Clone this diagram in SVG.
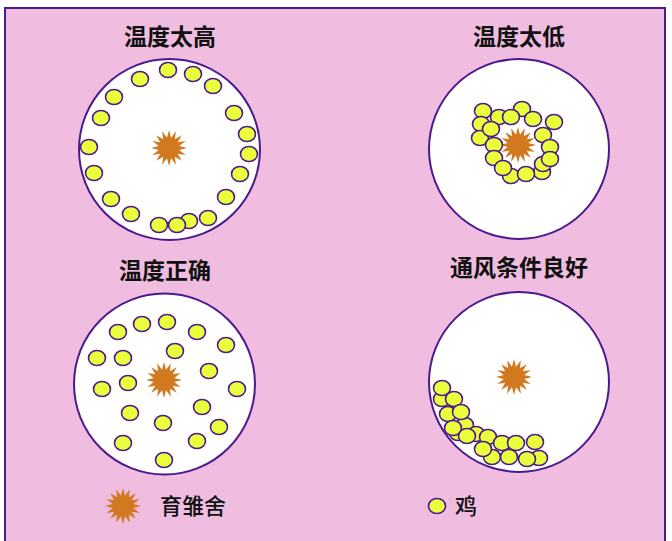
<svg xmlns="http://www.w3.org/2000/svg" xmlns:xlink="http://www.w3.org/1999/xlink" width="672" height="541" viewBox="0 0 672 541">
<style>
.bg{fill:#f0bde1;stroke:#4b1a8c;stroke-width:2}
.coop{fill:#ffffff;stroke:#4b1a8c;stroke-width:2}
.hen{fill:#eaff3b;stroke:#4b1a8c;stroke-width:1.6}
.sun{fill:#d2781e}
.title{font-family:"Noto Sans CJK SC","Noto Sans",sans-serif;font-size:23px;font-weight:bold;fill:#111;text-anchor:middle}
.leg{font-family:"Noto Sans CJK SC","Noto Sans",sans-serif;font-size:22px;font-weight:500;fill:#111}
</style>
<defs>
<polygon id="star" class="sun" points="18,0 10.3,2.05 16.63,6.89 8.73,5.84 12.73,12.73 5.84,8.73 6.89,16.63 2.05,10.3 0,18 -2.05,10.3 -6.89,16.63 -5.84,8.73 -12.73,12.73 -8.73,5.84 -16.63,6.89 -10.3,2.05 -18,0 -10.3,-2.05 -16.63,-6.89 -8.73,-5.84 -12.73,-12.73 -5.84,-8.73 -6.89,-16.63 -2.05,-10.3 0,-18 2.05,-10.3 6.89,-16.63 5.84,-8.73 12.73,-12.73 8.73,-5.84 16.63,-6.89 10.3,-2.05"/>
<ellipse id="hen" class="hen" rx="8.5" ry="7.5"/>
</defs>
<rect class="bg" x="5" y="8" width="660" height="545"/>

<g id="too-hot">
<text class="title" x="170" y="45">温度太高</text>
<circle class="coop" cx="169.5" cy="149.5" r="90.5"/>
<use xlink:href="#star" x="169" y="148"/>
<use xlink:href="#hen" x="168" y="70"/>
<use xlink:href="#hen" x="193" y="74"/>
<use xlink:href="#hen" x="213" y="86"/>
<use xlink:href="#hen" x="140" y="79"/>
<use xlink:href="#hen" x="114" y="97"/>
<use xlink:href="#hen" x="101" y="118"/>
<use xlink:href="#hen" x="89" y="147"/>
<use xlink:href="#hen" x="94" y="173"/>
<use xlink:href="#hen" x="111" y="199"/>
<use xlink:href="#hen" x="131" y="214"/>
<use xlink:href="#hen" x="189" y="221"/>
<use xlink:href="#hen" x="159" y="225"/>
<use xlink:href="#hen" x="177" y="225"/>
<use xlink:href="#hen" x="208" y="218"/>
<use xlink:href="#hen" x="226" y="197"/>
<use xlink:href="#hen" x="240" y="174"/>
<use xlink:href="#hen" x="247" y="134"/>
<use xlink:href="#hen" x="249" y="154"/>
<use xlink:href="#hen" x="234" y="113"/>
</g>

<g id="too-cold">
<text class="title" x="519" y="45">温度太低</text>
<circle class="coop" cx="519" cy="149" r="90"/>
<use xlink:href="#star" x="518" y="145"/>
<use xlink:href="#hen" x="483" y="111"/>
<use xlink:href="#hen" x="499" y="117"/>
<use xlink:href="#hen" x="522" y="109"/>
<use xlink:href="#hen" x="511" y="117"/>
<use xlink:href="#hen" x="533" y="119"/>
<use xlink:href="#hen" x="554" y="122"/>
<use xlink:href="#hen" x="481" y="124"/>
<use xlink:href="#hen" x="480" y="138"/>
<use xlink:href="#hen" x="491" y="129"/>
<use xlink:href="#hen" x="543" y="135"/>
<use xlink:href="#hen" x="494" y="145"/>
<use xlink:href="#hen" x="550" y="147"/>
<use xlink:href="#hen" x="494" y="158"/>
<use xlink:href="#hen" x="542" y="172"/>
<use xlink:href="#hen" x="543" y="164"/>
<use xlink:href="#hen" x="550" y="159"/>
<use xlink:href="#hen" x="511" y="176"/>
<use xlink:href="#hen" x="503" y="168"/>
<use xlink:href="#hen" x="526" y="174"/>
</g>

<g id="just-right">
<text class="title" x="165" y="279">温度正确</text>
<circle class="coop" cx="164.5" cy="384" r="90.5"/>
<use xlink:href="#star" x="164" y="380"/>
<use xlink:href="#hen" x="118" y="332"/>
<use xlink:href="#hen" x="142" y="324"/>
<use xlink:href="#hen" x="167" y="322"/>
<use xlink:href="#hen" x="197" y="332"/>
<use xlink:href="#hen" x="226" y="345"/>
<use xlink:href="#hen" x="97" y="358"/>
<use xlink:href="#hen" x="123" y="358"/>
<use xlink:href="#hen" x="175" y="351"/>
<use xlink:href="#hen" x="209" y="371"/>
<use xlink:href="#hen" x="102" y="389"/>
<use xlink:href="#hen" x="128" y="383"/>
<use xlink:href="#hen" x="237" y="389"/>
<use xlink:href="#hen" x="130" y="413"/>
<use xlink:href="#hen" x="202" y="407"/>
<use xlink:href="#hen" x="163" y="423"/>
<use xlink:href="#hen" x="219" y="427"/>
<use xlink:href="#hen" x="123" y="443"/>
<use xlink:href="#hen" x="197" y="441"/>
<use xlink:href="#hen" x="164" y="460"/>
</g>

<g id="good-ventilation">
<text class="title" x="519" y="276">通风条件良好</text>
<circle class="coop" cx="519" cy="382" r="90"/>
<use xlink:href="#star" x="514" y="377"/>
<use xlink:href="#hen" x="442" y="399"/>
<use xlink:href="#hen" x="442" y="388"/>
<use xlink:href="#hen" x="454" y="399"/>
<use xlink:href="#hen" x="448" y="414"/>
<use xlink:href="#hen" x="458" y="433"/>
<use xlink:href="#hen" x="465" y="425"/>
<use xlink:href="#hen" x="461" y="412"/>
<use xlink:href="#hen" x="453" y="428"/>
<use xlink:href="#hen" x="476" y="434"/>
<use xlink:href="#hen" x="467" y="436"/>
<use xlink:href="#hen" x="488" y="437"/>
<use xlink:href="#hen" x="492" y="457"/>
<use xlink:href="#hen" x="483" y="449"/>
<use xlink:href="#hen" x="502" y="443"/>
<use xlink:href="#hen" x="516" y="443"/>
<use xlink:href="#hen" x="535" y="442"/>
<use xlink:href="#hen" x="509" y="457"/>
<use xlink:href="#hen" x="539" y="458"/>
<use xlink:href="#hen" x="527" y="459"/>
</g>

<g id="legend-coop">
<use xlink:href="#star" x="123" y="506"/>
<text class="leg" x="160" y="514">育雏舍</text>
</g>
<g id="legend-hen">
<use xlink:href="#hen" x="437" y="506"/>
<text class="leg" x="455" y="514">鸡</text>
</g>
<g id="connectors"/>
</svg>
